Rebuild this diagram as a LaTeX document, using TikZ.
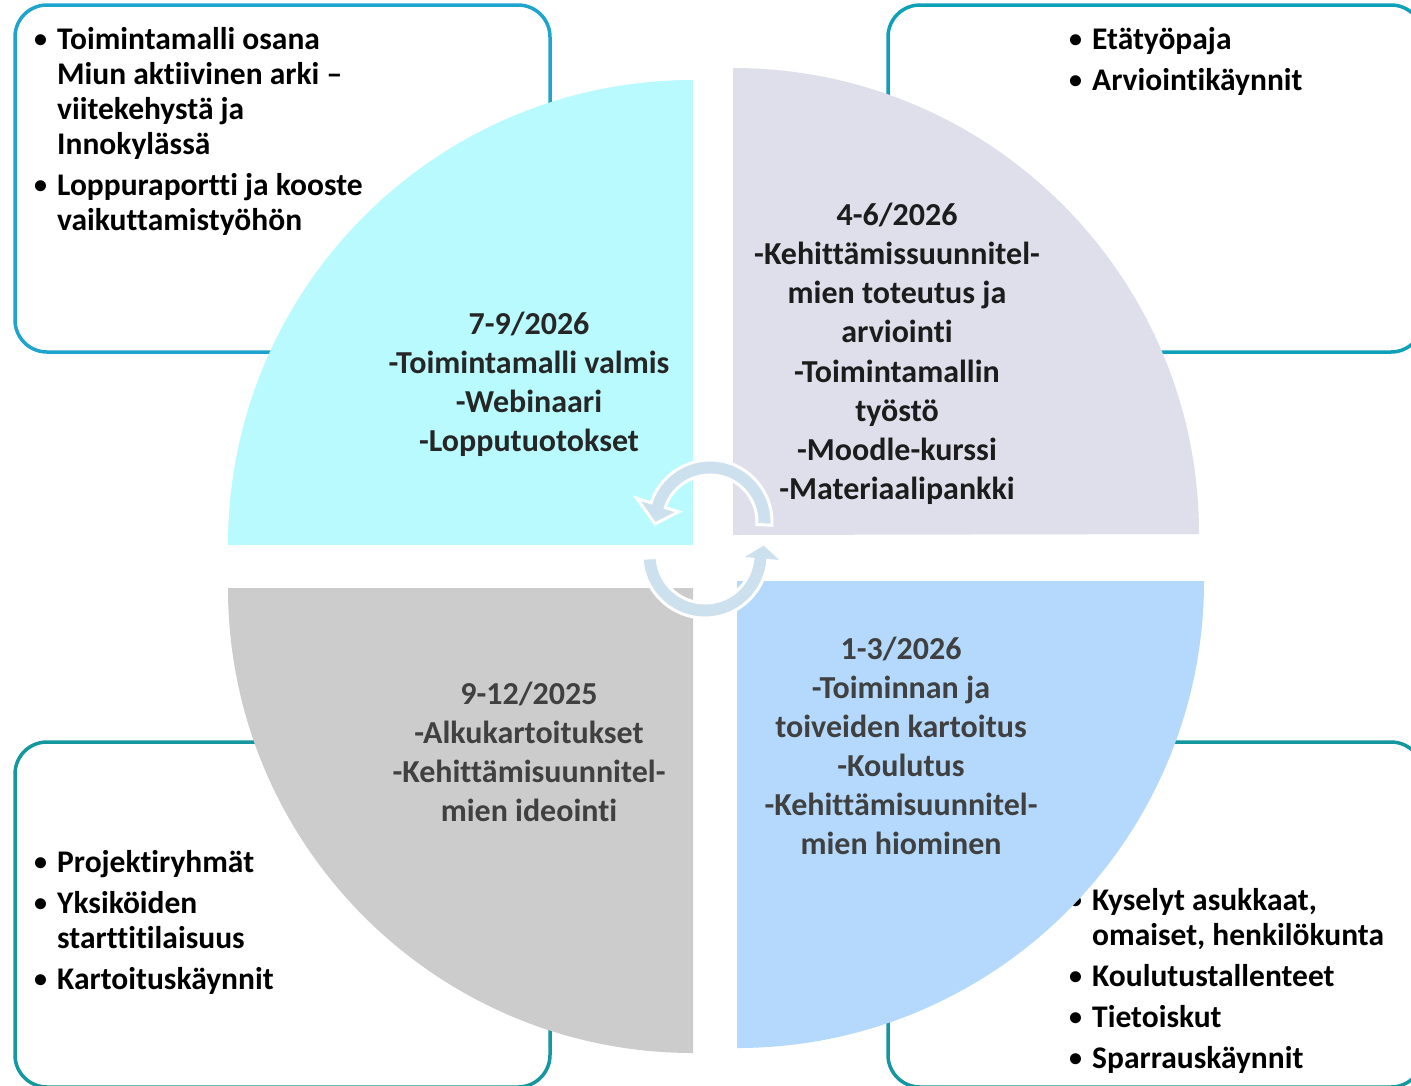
\documentclass[tikz,border=0pt]{standalone}
\usepackage{fontspec}
\setmainfont{Carlito}[Ligatures={NoCommon}]
\definecolor{tlfill}{HTML}{B8FAFE}
\definecolor{trfill}{HTML}{DFDFEB}
\definecolor{blfill}{HTML}{CCCCCC}
\definecolor{brfill}{HTML}{B4D9FC}
\definecolor{boxA}{HTML}{1FA3CF}
\definecolor{boxB}{HTML}{0FA0B9}
\definecolor{boxC}{HTML}{14979F}
\definecolor{arrowc}{HTML}{CDE0EE}
\definecolor{txtA}{HTML}{262626}
\definecolor{txtT}{HTML}{1C1C1C}
\definecolor{txtB}{HTML}{404040}
\newcommand\bul{\makebox[23pt][l]{\raisebox{1.5pt}{\fontsize{26}{26}\selectfont\textbullet}}}
\begin{document}
\begin{tikzpicture}[x=1pt,y=1pt,yscale=-1,
  boxline/.style={line width=3.5pt, rounded corners=32pt, fill=white},
  btext/.style={anchor=base west, inner sep=0pt, text=black, font=\fontsize{31.5}{36}\selectfont\bfseries},
  qtext/.style={anchor=base, inner sep=0pt, font=\fontsize{32}{38}\selectfont\bfseries},
  arrowshape/.style={fill=arrowc, draw=white, line width=3pt, line join=miter}]
\useasboundingbox (0,0) rectangle (1411,1085);
\clip (0,0) rectangle (1411,1085);
\fill[white] (0,0) rectangle (1411,1085);

% corner boxes
\draw[boxline, draw=boxA] (15,5) rectangle (550,352);
\draw[boxline, draw=boxB] (888,5) rectangle (1423,352);
\draw[boxline, draw=boxC] (15,742) rectangle (550,1087);
\draw[boxline, draw=boxC] (888,742) rectangle (1423,1087);

% box texts
\node[btext] (a1) at (34,49) {\bul Toimintamalli osana};
\node[btext] (a2) at (57,84) {Miun aktiivinen arki –};
\node[btext] (a3) at (57,119) {viitekehystä ja};
\node[btext] (a4) at (57,154) {Innokylässä};
\node[btext] (a5) at (34,195) {\bul Loppuraportti ja kooste};
\node[btext] (a6) at (57,230) {vaikuttamistyöhön};

\node[btext] (b1) at (1069,49) {\bul Etätyöpaja};
\node[btext] (b2) at (1069,90) {\bul Arviointikäynnit};

\node[btext] (c1) at (34,872) {\bul Projektiryhmät};
\node[btext] (c2) at (34,913) {\bul Yksiköiden};
\node[btext] (c3) at (57,948) {starttitilaisuus};
\node[btext] (c4) at (34,989) {\bul Kartoituskäynnit};

\node[btext] (d1) at (1069,910) {\bul Kyselyt asukkaat,};
\node[btext] (d2) at (1092,945) {omaiset, henkilökunta};
\node[btext] (d3) at (1069,986) {\bul Koulutustallenteet};
\node[btext] (d4) at (1069,1027) {\bul Tietoiskut};
\node[btext] (d5) at (1069,1068) {\bul Sparrauskäynnit};

% quarter circles
\fill[tlfill] (693,545) -- (228,545) arc[start angle=180, end angle=270, radius=465] -- cycle;
\fill[trfill] (733,535) -- (733,68) arc[start angle=270, end angle=360, radius=466] -- cycle;
\fill[blfill] (693,588) -- (228,588) arc[start angle=180, end angle=90, radius=465] -- cycle;
\fill[brfill] (737,581) -- (1204,581) arc[start angle=0, end angle=90, radius=467] -- cycle;

% quadrant texts
\node[qtext, text=txtA] (q11) at (529,334) {7-9/2026};
\node[qtext, text=txtA] (q12) at (529,373) {-Toimintamalli valmis};
\node[qtext, text=txtA] (q13) at (529,412) {-Webinaari};
\node[qtext, text=txtA] (q14) at (529,451) {-Lopputuotokset};

\node[qtext, text=txtT] (q21) at (897,225) {4-6/2026};
\node[qtext, text=txtT] (q22) at (897,264) {-Kehittämissuunnitel-};
\node[qtext, text=txtT] (q23) at (897,303) {mien toteutus ja};
\node[qtext, text=txtT] (q24) at (897,342) {arviointi};
\node[qtext, text=txtT] (q25) at (897,382) {-Toimintamallin};
\node[qtext, text=txtT] (q26) at (897,421) {työstö};
\node[qtext, text=txtT] (q27) at (897,460) {-Moodle-kurssi};
\node[qtext, text=txtT] (q28) at (897,499) {-Materiaalipankki};

\node[qtext, text=txtB] (q31) at (529,704) {9-12/2025};
\node[qtext, text=txtB] (q32) at (529,743) {-Alkukartoitukset};
\node[qtext, text=txtB] (q33) at (529,782) {-Kehittämisuunnitel-};
\node[qtext, text=txtB] (q34) at (529,821) {mien ideointi};

\node[qtext, text=txtB] (q41) at (901,659) {1-3/2026};
\node[qtext, text=txtB] (q42) at (901,698) {-Toiminnan ja};
\node[qtext, text=txtB] (q43) at (901,737) {toiveiden kartoitus};
\node[qtext, text=txtB] (q44) at (901,776) {-Koulutus};
\node[qtext, text=txtB] (q45) at (901,815) {-Kehittämisuunnitel-};
\node[qtext, text=txtB] (q46) at (901,854) {mien hiominen};

% circular arrows
\path[arrowshape] ([shift={(710,522)}]3:62) arc[start angle=3, end angle=-162, radius=62]
  -- ([shift={(710,522)}]-162:77) -- ([shift={(710,522)}]-182:55)
  -- ([shift={(710,522)}]-162:33) -- ([shift={(710,522)}]-162:47)
  arc[start angle=-162, end angle=3, radius=47] -- cycle;
\path[arrowshape] ([shift={(705,555)}]-183:63) arc[start angle=-183, end angle=-355, radius=63]
  -- ([shift={(705,555)}]-355:79) -- ([shift={(705,555)}]-371:60)
  -- ([shift={(705,555)}]-355:35) -- ([shift={(705,555)}]-355:48)
  arc[start angle=-355, end angle=-183, radius=48] -- cycle;
\end{tikzpicture}
\end{document}
